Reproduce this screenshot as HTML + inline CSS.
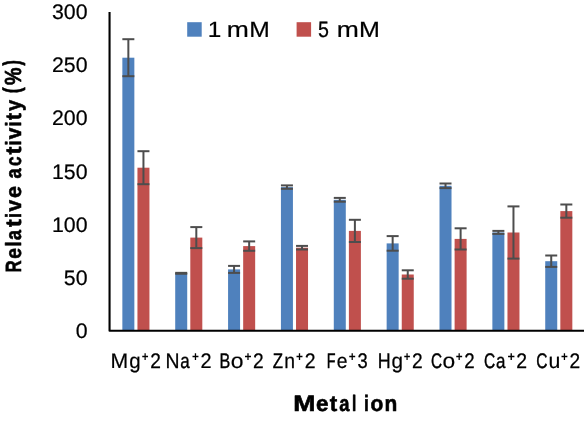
<!DOCTYPE html>
<html><head><meta charset="utf-8"><title>chart</title>
<style>html,body{margin:0;padding:0;background:#fff;overflow:hidden}svg{display:block;will-change:transform}text{font-family:"Liberation Sans",sans-serif;fill:#000;text-rendering:geometricPrecision}</style></head>
<body>
<svg width="584" height="421" viewBox="0 0 584 421">
<rect width="584" height="421" fill="#fff"/>
<rect x="122.35" y="57.70" width="12.0" height="273.10" fill="#4f81bd"/>
<rect x="137.45" y="167.70" width="12.0" height="163.10" fill="#c0504d"/>
<line x1="128.35" y1="39.20" x2="128.35" y2="76.20" stroke="#4d4d4d" stroke-width="2.0"/><line x1="122.35" y1="39.20" x2="134.35" y2="39.20" stroke="#4d4d4d" stroke-width="2.0"/><line x1="122.35" y1="76.20" x2="134.35" y2="76.20" stroke="#4d4d4d" stroke-width="2.0"/>
<line x1="143.45" y1="151.20" x2="143.45" y2="184.20" stroke="#4d4d4d" stroke-width="2.0"/><line x1="137.45" y1="151.20" x2="149.45" y2="151.20" stroke="#4d4d4d" stroke-width="2.0"/><line x1="137.45" y1="184.20" x2="149.45" y2="184.20" stroke="#4d4d4d" stroke-width="2.0"/>
<rect x="175.21" y="273.30" width="12.0" height="57.50" fill="#4f81bd"/>
<rect x="190.31" y="237.60" width="12.0" height="93.20" fill="#c0504d"/>
<line x1="181.21" y1="272.85" x2="181.21" y2="273.75" stroke="#4d4d4d" stroke-width="2.0"/><line x1="175.21" y1="272.85" x2="187.21" y2="272.85" stroke="#4d4d4d" stroke-width="2.0"/><line x1="175.21" y1="273.75" x2="187.21" y2="273.75" stroke="#4d4d4d" stroke-width="2.0"/>
<line x1="196.31" y1="227.10" x2="196.31" y2="248.10" stroke="#4d4d4d" stroke-width="2.0"/><line x1="190.31" y1="227.10" x2="202.31" y2="227.10" stroke="#4d4d4d" stroke-width="2.0"/><line x1="190.31" y1="248.10" x2="202.31" y2="248.10" stroke="#4d4d4d" stroke-width="2.0"/>
<rect x="228.07" y="269.40" width="12.0" height="61.40" fill="#4f81bd"/>
<rect x="243.17" y="246.10" width="12.0" height="84.70" fill="#c0504d"/>
<line x1="234.07" y1="265.90" x2="234.07" y2="272.90" stroke="#4d4d4d" stroke-width="2.0"/><line x1="228.07" y1="265.90" x2="240.07" y2="265.90" stroke="#4d4d4d" stroke-width="2.0"/><line x1="228.07" y1="272.90" x2="240.07" y2="272.90" stroke="#4d4d4d" stroke-width="2.0"/>
<line x1="249.17" y1="241.40" x2="249.17" y2="250.80" stroke="#4d4d4d" stroke-width="2.0"/><line x1="243.17" y1="241.40" x2="255.17" y2="241.40" stroke="#4d4d4d" stroke-width="2.0"/><line x1="243.17" y1="250.80" x2="255.17" y2="250.80" stroke="#4d4d4d" stroke-width="2.0"/>
<rect x="280.93" y="187.10" width="12.0" height="143.70" fill="#4f81bd"/>
<rect x="296.03" y="247.70" width="12.0" height="83.10" fill="#c0504d"/>
<line x1="286.93" y1="185.40" x2="286.93" y2="188.80" stroke="#4d4d4d" stroke-width="2.0"/><line x1="280.93" y1="185.40" x2="292.93" y2="185.40" stroke="#4d4d4d" stroke-width="2.0"/><line x1="280.93" y1="188.80" x2="292.93" y2="188.80" stroke="#4d4d4d" stroke-width="2.0"/>
<line x1="302.03" y1="245.90" x2="302.03" y2="249.50" stroke="#4d4d4d" stroke-width="2.0"/><line x1="296.03" y1="245.90" x2="308.03" y2="245.90" stroke="#4d4d4d" stroke-width="2.0"/><line x1="296.03" y1="249.50" x2="308.03" y2="249.50" stroke="#4d4d4d" stroke-width="2.0"/>
<rect x="333.79" y="199.80" width="12.0" height="131.00" fill="#4f81bd"/>
<rect x="348.89" y="230.90" width="12.0" height="99.90" fill="#c0504d"/>
<line x1="339.79" y1="197.90" x2="339.79" y2="201.70" stroke="#4d4d4d" stroke-width="2.0"/><line x1="333.79" y1="197.90" x2="345.79" y2="197.90" stroke="#4d4d4d" stroke-width="2.0"/><line x1="333.79" y1="201.70" x2="345.79" y2="201.70" stroke="#4d4d4d" stroke-width="2.0"/>
<line x1="354.89" y1="219.80" x2="354.89" y2="242.00" stroke="#4d4d4d" stroke-width="2.0"/><line x1="348.89" y1="219.80" x2="360.89" y2="219.80" stroke="#4d4d4d" stroke-width="2.0"/><line x1="348.89" y1="242.00" x2="360.89" y2="242.00" stroke="#4d4d4d" stroke-width="2.0"/>
<rect x="386.65" y="243.40" width="12.0" height="87.40" fill="#4f81bd"/>
<rect x="401.75" y="274.50" width="12.0" height="56.30" fill="#c0504d"/>
<line x1="392.65" y1="236.10" x2="392.65" y2="250.70" stroke="#4d4d4d" stroke-width="2.0"/><line x1="386.65" y1="236.10" x2="398.65" y2="236.10" stroke="#4d4d4d" stroke-width="2.0"/><line x1="386.65" y1="250.70" x2="398.65" y2="250.70" stroke="#4d4d4d" stroke-width="2.0"/>
<line x1="407.75" y1="270.30" x2="407.75" y2="278.70" stroke="#4d4d4d" stroke-width="2.0"/><line x1="401.75" y1="270.30" x2="413.75" y2="270.30" stroke="#4d4d4d" stroke-width="2.0"/><line x1="401.75" y1="278.70" x2="413.75" y2="278.70" stroke="#4d4d4d" stroke-width="2.0"/>
<rect x="439.51" y="185.80" width="12.0" height="145.00" fill="#4f81bd"/>
<rect x="454.61" y="238.90" width="12.0" height="91.90" fill="#c0504d"/>
<line x1="445.51" y1="183.50" x2="445.51" y2="188.10" stroke="#4d4d4d" stroke-width="2.0"/><line x1="439.51" y1="183.50" x2="451.51" y2="183.50" stroke="#4d4d4d" stroke-width="2.0"/><line x1="439.51" y1="188.10" x2="451.51" y2="188.10" stroke="#4d4d4d" stroke-width="2.0"/>
<line x1="460.61" y1="228.30" x2="460.61" y2="249.50" stroke="#4d4d4d" stroke-width="2.0"/><line x1="454.61" y1="228.30" x2="466.61" y2="228.30" stroke="#4d4d4d" stroke-width="2.0"/><line x1="454.61" y1="249.50" x2="466.61" y2="249.50" stroke="#4d4d4d" stroke-width="2.0"/>
<rect x="492.37" y="232.40" width="12.0" height="98.40" fill="#4f81bd"/>
<rect x="507.47" y="232.50" width="12.0" height="98.30" fill="#c0504d"/>
<line x1="498.37" y1="230.90" x2="498.37" y2="233.90" stroke="#4d4d4d" stroke-width="2.0"/><line x1="492.37" y1="230.90" x2="504.37" y2="230.90" stroke="#4d4d4d" stroke-width="2.0"/><line x1="492.37" y1="233.90" x2="504.37" y2="233.90" stroke="#4d4d4d" stroke-width="2.0"/>
<line x1="513.47" y1="206.40" x2="513.47" y2="258.60" stroke="#4d4d4d" stroke-width="2.0"/><line x1="507.47" y1="206.40" x2="519.47" y2="206.40" stroke="#4d4d4d" stroke-width="2.0"/><line x1="507.47" y1="258.60" x2="519.47" y2="258.60" stroke="#4d4d4d" stroke-width="2.0"/>
<rect x="545.23" y="261.20" width="12.0" height="69.60" fill="#4f81bd"/>
<rect x="560.33" y="211.10" width="12.0" height="119.70" fill="#c0504d"/>
<line x1="551.23" y1="255.50" x2="551.23" y2="266.90" stroke="#4d4d4d" stroke-width="2.0"/><line x1="545.23" y1="255.50" x2="557.23" y2="255.50" stroke="#4d4d4d" stroke-width="2.0"/><line x1="545.23" y1="266.90" x2="557.23" y2="266.90" stroke="#4d4d4d" stroke-width="2.0"/>
<line x1="566.33" y1="204.50" x2="566.33" y2="217.70" stroke="#4d4d4d" stroke-width="2.0"/><line x1="560.33" y1="204.50" x2="572.33" y2="204.50" stroke="#4d4d4d" stroke-width="2.0"/><line x1="560.33" y1="217.70" x2="572.33" y2="217.70" stroke="#4d4d4d" stroke-width="2.0"/>
<path d="M109.55,12.1 L109.55,330.8 L585,330.8" fill="none" stroke="#000" stroke-width="2.1" stroke-linejoin="round"/>
<text x="51.95" y="19.25" font-size="21.0" textLength="35.55" lengthAdjust="spacingAndGlyphs" stroke="#000" stroke-width="0.2">300</text>
<text x="51.95" y="72.33" font-size="21.0" textLength="35.55" lengthAdjust="spacingAndGlyphs" stroke="#000" stroke-width="0.2">250</text>
<text x="51.95" y="125.42" font-size="21.0" textLength="35.55" lengthAdjust="spacingAndGlyphs" stroke="#000" stroke-width="0.2">200</text>
<text x="51.95" y="178.50" font-size="21.0" textLength="35.55" lengthAdjust="spacingAndGlyphs" stroke="#000" stroke-width="0.2">150</text>
<text x="51.95" y="231.58" font-size="21.0" textLength="35.55" lengthAdjust="spacingAndGlyphs" stroke="#000" stroke-width="0.2">100</text>
<text x="63.80" y="284.66" font-size="21.0" textLength="23.70" lengthAdjust="spacingAndGlyphs" stroke="#000" stroke-width="0.2">50</text>
<text x="75.65" y="337.75" font-size="21.0" textLength="11.85" lengthAdjust="spacingAndGlyphs" stroke="#000" stroke-width="0.2">0</text>
<text transform="translate(110.51,367.75) scale(1.0060,1)" font-size="21.1" stroke="#000" stroke-width="0.20" vector-effect="non-scaling-stroke" stroke-linejoin="round">M</text>
<text transform="translate(129.29,367.75) scale(0.9696,1)" font-size="21.1" stroke="#000" stroke-width="0.20" vector-effect="non-scaling-stroke" stroke-linejoin="round">g</text>
<text transform="translate(141.66,361.45) scale(0.8696,1)" font-size="13.3" font-weight="bold">+</text>
<text transform="translate(150.27,367.75) scale(0.9086,1)" font-size="21.1" stroke="#000" stroke-width="0.27" vector-effect="non-scaling-stroke" stroke-linejoin="round">2</text>
<text transform="translate(165.59,367.75) scale(0.9196,1)" font-size="21.1" stroke="#000" stroke-width="0.26" vector-effect="non-scaling-stroke" stroke-linejoin="round">N</text>
<text transform="translate(180.26,367.75) scale(0.8057,1)" font-size="21.1" stroke="#000" stroke-width="0.37" vector-effect="non-scaling-stroke" stroke-linejoin="round">a</text>
<text transform="translate(192.00,361.45) scale(0.8921,1)" font-size="13.3" font-weight="bold">+</text>
<text transform="translate(200.57,367.75) scale(0.9432,1)" font-size="21.1" stroke="#000" stroke-width="0.23" vector-effect="non-scaling-stroke" stroke-linejoin="round">2</text>
<text transform="translate(219.53,367.75) scale(0.7651,1)" font-size="21.1" stroke="#000" stroke-width="0.41" vector-effect="non-scaling-stroke" stroke-linejoin="round">B</text>
<text transform="translate(230.79,367.75) scale(1.0840,1)" font-size="21.1" stroke="#000" stroke-width="0.20" vector-effect="non-scaling-stroke" stroke-linejoin="round">o</text>
<text transform="translate(244.55,361.45) scale(0.8996,1)" font-size="13.3" font-weight="bold">+</text>
<text transform="translate(253.12,367.75) scale(0.9086,1)" font-size="21.1" stroke="#000" stroke-width="0.27" vector-effect="non-scaling-stroke" stroke-linejoin="round">2</text>
<text transform="translate(272.70,367.75) scale(0.7979,1)" font-size="21.1" stroke="#000" stroke-width="0.38" vector-effect="non-scaling-stroke" stroke-linejoin="round">Z</text>
<text transform="translate(284.19,367.75) scale(0.9200,1)" font-size="21.1" stroke="#000" stroke-width="0.25" vector-effect="non-scaling-stroke" stroke-linejoin="round">n</text>
<text transform="translate(296.05,361.45) scale(0.8996,1)" font-size="13.3" font-weight="bold">+</text>
<text transform="translate(304.65,367.75) scale(0.9201,1)" font-size="21.1" stroke="#000" stroke-width="0.26" vector-effect="non-scaling-stroke" stroke-linejoin="round">2</text>
<text transform="translate(326.72,367.75) scale(0.6802,1)" font-size="21.1" stroke="#000" stroke-width="0.48" vector-effect="non-scaling-stroke" stroke-linejoin="round">F</text>
<text transform="translate(336.71,367.75) scale(0.9127,1)" font-size="21.1" stroke="#000" stroke-width="0.26" vector-effect="non-scaling-stroke" stroke-linejoin="round">e</text>
<text transform="translate(348.70,361.45) scale(0.8921,1)" font-size="13.3" font-weight="bold">+</text>
<text transform="translate(357.50,367.75) scale(0.8692,1)" font-size="21.1" stroke="#000" stroke-width="0.30" vector-effect="non-scaling-stroke" stroke-linejoin="round">3</text>
<text transform="translate(377.75,367.75) scale(0.8458,1)" font-size="21.1" stroke="#000" stroke-width="0.33" vector-effect="non-scaling-stroke" stroke-linejoin="round">H</text>
<text transform="translate(391.38,367.75) scale(0.9801,1)" font-size="21.1" stroke="#000" stroke-width="0.20" vector-effect="non-scaling-stroke" stroke-linejoin="round">g</text>
<text transform="translate(403.87,361.45) scale(0.8546,1)" font-size="13.3" font-weight="bold">+</text>
<text transform="translate(412.12,367.75) scale(0.9086,1)" font-size="21.1" stroke="#000" stroke-width="0.27" vector-effect="non-scaling-stroke" stroke-linejoin="round">2</text>
<text transform="translate(430.89,367.75) scale(0.7299,1)" font-size="21.1" stroke="#000" stroke-width="0.45" vector-effect="non-scaling-stroke" stroke-linejoin="round">C</text>
<text transform="translate(442.54,367.75) scale(1.0790,1)" font-size="21.1" stroke="#000" stroke-width="0.20" vector-effect="non-scaling-stroke" stroke-linejoin="round">o</text>
<text transform="translate(455.86,361.45) scale(0.8846,1)" font-size="13.3" font-weight="bold">+</text>
<text transform="translate(464.15,367.75) scale(0.8855,1)" font-size="21.1" stroke="#000" stroke-width="0.29" vector-effect="non-scaling-stroke" stroke-linejoin="round">2</text>
<text transform="translate(483.88,367.75) scale(0.7379,1)" font-size="21.1" stroke="#000" stroke-width="0.44" vector-effect="non-scaling-stroke" stroke-linejoin="round">C</text>
<text transform="translate(495.91,367.75) scale(0.8057,1)" font-size="21.1" stroke="#000" stroke-width="0.37" vector-effect="non-scaling-stroke" stroke-linejoin="round">a</text>
<text transform="translate(507.41,361.45) scale(0.9596,1)" font-size="13.3" font-weight="bold">+</text>
<text transform="translate(516.20,367.75) scale(0.9201,1)" font-size="21.1" stroke="#000" stroke-width="0.26" vector-effect="non-scaling-stroke" stroke-linejoin="round">2</text>
<text transform="translate(536.18,367.75) scale(0.7379,1)" font-size="21.1" stroke="#000" stroke-width="0.44" vector-effect="non-scaling-stroke" stroke-linejoin="round">C</text>
<text transform="translate(548.47,367.75) scale(1.0097,1)" font-size="21.1" stroke="#000" stroke-width="0.20" vector-effect="non-scaling-stroke" stroke-linejoin="round">u</text>
<text transform="translate(561.06,361.45) scale(0.8846,1)" font-size="13.3" font-weight="bold">+</text>
<text transform="translate(569.52,367.75) scale(0.9086,1)" font-size="21.1" stroke="#000" stroke-width="0.27" vector-effect="non-scaling-stroke" stroke-linejoin="round">2</text>
<rect x="187.2" y="22.2" width="14.5" height="14.5" fill="#4f81bd"/>
<rect x="296.6" y="22.2" width="14.5" height="14.5" fill="#c0504d"/>
<text transform="translate(207.74,36.50) scale(1.0970,1)" font-size="22.2" stroke="#000" stroke-width="0.20" vector-effect="non-scaling-stroke" stroke-linejoin="round">1</text>
<text transform="translate(226.64,36.50) scale(1.1957,1)" font-size="22.2" stroke="#000" stroke-width="0.20" vector-effect="non-scaling-stroke" stroke-linejoin="round">m</text>
<text transform="translate(249.28,36.50) scale(1.1111,1)" font-size="22.2" stroke="#000" stroke-width="0.20" vector-effect="non-scaling-stroke" stroke-linejoin="round">M</text>
<text transform="translate(318.06,36.50) scale(0.8839,1)" font-size="22.2" stroke="#000" stroke-width="0.30" vector-effect="non-scaling-stroke" stroke-linejoin="round">5</text>
<text transform="translate(336.64,36.50) scale(1.1957,1)" font-size="22.2" stroke="#000" stroke-width="0.20" vector-effect="non-scaling-stroke" stroke-linejoin="round">m</text>
<text transform="translate(358.94,36.50) scale(1.1313,1)" font-size="22.2" stroke="#000" stroke-width="0.20" vector-effect="non-scaling-stroke" stroke-linejoin="round">M</text>
<text transform="translate(293.27,411.00) scale(1.1929,1)" font-size="22.3" font-weight="bold" stroke="#000" stroke-width="0.60" vector-effect="non-scaling-stroke" stroke-linejoin="round">M</text>
<text transform="translate(316.08,411.00) scale(1.0029,1)" font-size="22.3" font-weight="bold" stroke="#000" stroke-width="0.60" vector-effect="non-scaling-stroke" stroke-linejoin="round">e</text>
<text transform="translate(329.78,411.00) scale(1.0027,1)" font-size="22.3" font-weight="bold" stroke="#000" stroke-width="0.60" vector-effect="non-scaling-stroke" stroke-linejoin="round">t</text>
<text transform="translate(339.21,411.00) scale(0.8242,1)" font-size="22.3" font-weight="bold" stroke="#000" stroke-width="0.60" vector-effect="non-scaling-stroke" stroke-linejoin="round">a</text>
<text transform="translate(352.08,411.00) scale(0.6863,1)" font-size="22.3" font-weight="bold" stroke="#000" stroke-width="0.60" vector-effect="non-scaling-stroke" stroke-linejoin="round">l</text>
<text transform="translate(363.93,411.00) scale(0.7844,1)" font-size="22.3" font-weight="bold" stroke="#000" stroke-width="0.60" vector-effect="non-scaling-stroke" stroke-linejoin="round">i</text>
<text transform="translate(370.48,411.00) scale(0.9386,1)" font-size="22.3" font-weight="bold" stroke="#000" stroke-width="0.60" vector-effect="non-scaling-stroke" stroke-linejoin="round">o</text>
<text transform="translate(384.57,411.00) scale(0.9379,1)" font-size="22.3" font-weight="bold" stroke="#000" stroke-width="0.60" vector-effect="non-scaling-stroke" stroke-linejoin="round">n</text>
<g transform="translate(21,0) rotate(-90)">
<text transform="translate(-272.48,0.00) scale(0.7662,1)" font-size="22" font-weight="bold" stroke="#000" stroke-width="0.60" vector-effect="non-scaling-stroke" stroke-linejoin="round">R</text>
<text transform="translate(-258.71,0.00) scale(0.8801,1)" font-size="22" font-weight="bold" stroke="#000" stroke-width="0.60" vector-effect="non-scaling-stroke" stroke-linejoin="round">e</text>
<text transform="translate(-246.62,0.00) scale(0.8282,1)" font-size="22" font-weight="bold" stroke="#000" stroke-width="0.60" vector-effect="non-scaling-stroke" stroke-linejoin="round">l</text>
<text transform="translate(-239.98,0.00) scale(0.8184,1)" font-size="22" font-weight="bold" stroke="#000" stroke-width="0.60" vector-effect="non-scaling-stroke" stroke-linejoin="round">a</text>
<text transform="translate(-226.88,0.00) scale(1.0384,1)" font-size="22" font-weight="bold" stroke="#000" stroke-width="0.60" vector-effect="non-scaling-stroke" stroke-linejoin="round">t</text>
<text transform="translate(-217.92,0.00) scale(0.8282,1)" font-size="22" font-weight="bold" stroke="#000" stroke-width="0.60" vector-effect="non-scaling-stroke" stroke-linejoin="round">i</text>
<text transform="translate(-211.58,0.00) scale(0.9500,1)" font-size="22" font-weight="bold" stroke="#000" stroke-width="0.60" vector-effect="non-scaling-stroke" stroke-linejoin="round">v</text>
<text transform="translate(-197.99,0.00) scale(0.9789,1)" font-size="22" font-weight="bold" stroke="#000" stroke-width="0.60" vector-effect="non-scaling-stroke" stroke-linejoin="round">e</text>
<text transform="translate(-178.48,0.00) scale(0.8269,1)" font-size="22" font-weight="bold" stroke="#000" stroke-width="0.60" vector-effect="non-scaling-stroke" stroke-linejoin="round">a</text>
<text transform="translate(-166.02,0.00) scale(0.7827,1)" font-size="22" font-weight="bold" stroke="#000" stroke-width="0.60" vector-effect="non-scaling-stroke" stroke-linejoin="round">c</text>
<text transform="translate(-154.44,0.00) scale(1.0900,1)" font-size="22" font-weight="bold" stroke="#000" stroke-width="0.60" vector-effect="non-scaling-stroke" stroke-linejoin="round">t</text>
<text transform="translate(-145.42,0.00) scale(0.8282,1)" font-size="22" font-weight="bold" stroke="#000" stroke-width="0.60" vector-effect="non-scaling-stroke" stroke-linejoin="round">i</text>
<text transform="translate(-139.33,0.00) scale(0.9541,1)" font-size="22" font-weight="bold" stroke="#000" stroke-width="0.60" vector-effect="non-scaling-stroke" stroke-linejoin="round">v</text>
<text transform="translate(-126.62,0.00) scale(0.8282,1)" font-size="22" font-weight="bold" stroke="#000" stroke-width="0.60" vector-effect="non-scaling-stroke" stroke-linejoin="round">i</text>
<text transform="translate(-119.91,0.00) scale(0.9574,1)" font-size="22" font-weight="bold" stroke="#000" stroke-width="0.60" vector-effect="non-scaling-stroke" stroke-linejoin="round">t</text>
<text transform="translate(-111.01,0.00) scale(0.9125,1)" font-size="22" font-weight="bold" stroke="#000" stroke-width="0.60" vector-effect="non-scaling-stroke" stroke-linejoin="round">y</text>
<text transform="translate(-93.13,-0.70) scale(0.8053,1.1)" font-size="22" font-weight="bold" stroke="#000" stroke-width="0.60" vector-effect="non-scaling-stroke" stroke-linejoin="round">(</text>
<text transform="translate(-84.94,0.40) scale(0.8951,1.06)" font-size="22" font-weight="bold" stroke="#000" stroke-width="0.60" vector-effect="non-scaling-stroke" stroke-linejoin="round">%</text>
<text transform="translate(-65.47,-0.70) scale(0.7248,1.1)" font-size="22" font-weight="bold" stroke="#000" stroke-width="0.60" vector-effect="non-scaling-stroke" stroke-linejoin="round">)</text>
</g>
</svg>
</body></html>
